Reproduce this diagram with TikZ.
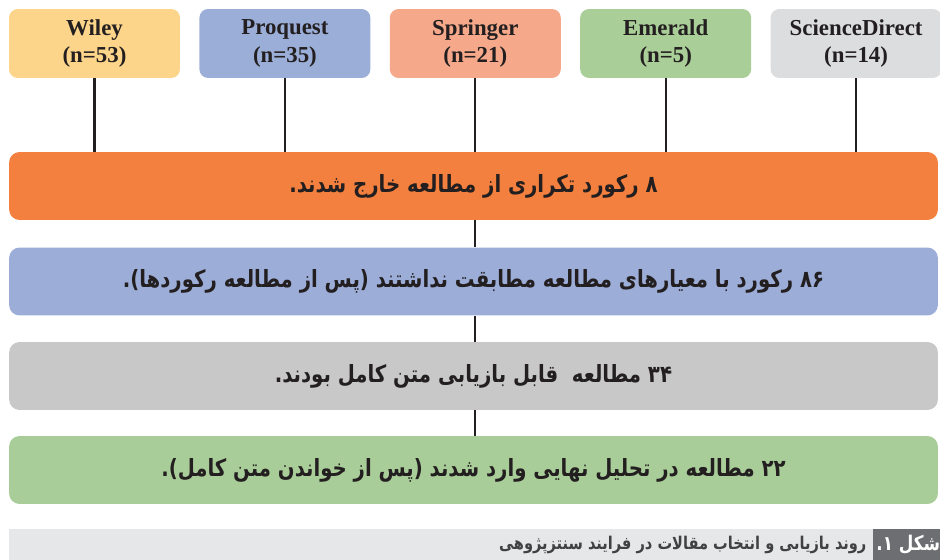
\documentclass[tikz,border=0pt]{standalone}
\usepackage{fontspec}
\setmainfont{Liberation Serif}
\newfontfamily\farsi[Script=Arabic,FakeStretch=0.83]{DejaVu Sans}
\TeXXeTstate=1
\usetikzlibrary{positioning}

\definecolor{inkc}{HTML}{231F20}
\definecolor{wileyc}{HTML}{FDD58A}
\definecolor{proqc}{HTML}{9BAED8}
\definecolor{sprc}{HTML}{F5A98A}
\definecolor{emec}{HTML}{A9CE98}
\definecolor{scic}{HTML}{DCDDDF}
\definecolor{dupc}{HTML}{F3803E}
\definecolor{mismc}{HTML}{9CADD8}
\definecolor{fullc}{HTML}{C8C8C8}
\definecolor{finalc}{HTML}{A9CD98}
\definecolor{capband}{HTML}{E6E7E8}
\definecolor{capdark}{HTML}{6D6E71}
\definecolor{captext}{HTML}{414042}

\tikzset{
	srcbox/.style={rounded corners=5pt, minimum width=3.42cm, minimum height=1.38cm,
		align=center, text=inkc, font=\bfseries\fontsize{13}{15.5}\selectfont},
	stagebar/.style={rounded corners=6pt, minimum width=18.58cm, minimum height=1.36cm,
		text=inkc, font=\farsi\bfseries\fontsize{13.5}{15}\selectfont},
	link/.style={line width=1.2pt, draw=inkc}
}

\begin{document}
\begin{tikzpicture}[x=0.02cm,y=-0.02cm]
	\useasboundingbox (0,0) rectangle (940,560);
	% databases
	\foreach \i/\nm/\lab/\n/\col in {0/wiley/Wiley/53/wileyc, 1/proq/Proquest/35/proqc,
		2/spr/Springer/21/sprc, 3/eme/Emerald/5/emec, 4/sci/ScienceDirect/14/scic}
		\node[srcbox, fill=\col] (\nm) at (94.5+190.4*\i, 43.5) {\lab\\(n=\n)};
	% stages
	\node[stagebar, fill=dupc] (dup) at (473.5,186) {\beginR ۸ رکورد تکراری از مطالعه خارج شدند.\endR};
	\node[stagebar, fill=mismc] (mism) at (473.5,281.5) {\beginR ۸۶ رکورد با معیارهای مطالعه مطابقت نداشتند (پس از مطالعه رکوردها).\endR};
	\node[stagebar, fill=fullc] (full) at (473.5,376) {\beginR ۳۴ مطالعه\ \ قابل بازیابی متن کامل بودند.\endR};
	\node[stagebar, fill=finalc] (final) at (473.5,470) {\beginR ۲۲ مطالعه در تحلیل نهایی وارد شدند (پس از خواندن متن کامل).\endR};
	% links
	\foreach \nm in {wiley,proq,spr,eme,sci}
		\draw[link] (\nm.south) -- (\nm.south |- dup.north);
	\draw[link] (dup.south -| spr.south) -- (mism.north -| spr.south);
	\draw[link] (mism.south -| spr.south) -- (full.north -| spr.south);
	\draw[link] (full.south -| spr.south) -- (final.north -| spr.south);
	% caption
	\fill[capband] (9,529) rectangle (940,560);
	\node[fill=capdark, text=white, anchor=east, minimum height=0.62cm, inner xsep=2pt,
		font=\farsi\bfseries\fontsize{11.5}{13}\selectfont] (figno) at (944,544.5) {\beginR شکل ۱.\endR};
	\node[anchor=east, text=captext, font=\farsi\bfseries\fontsize{10}{12}\selectfont]
		(cap) at (figno.west) {\beginR روند بازیابی و انتخاب مقالات در فرایند سنتزپژوهی\endR};
\end{tikzpicture}
\end{document}
